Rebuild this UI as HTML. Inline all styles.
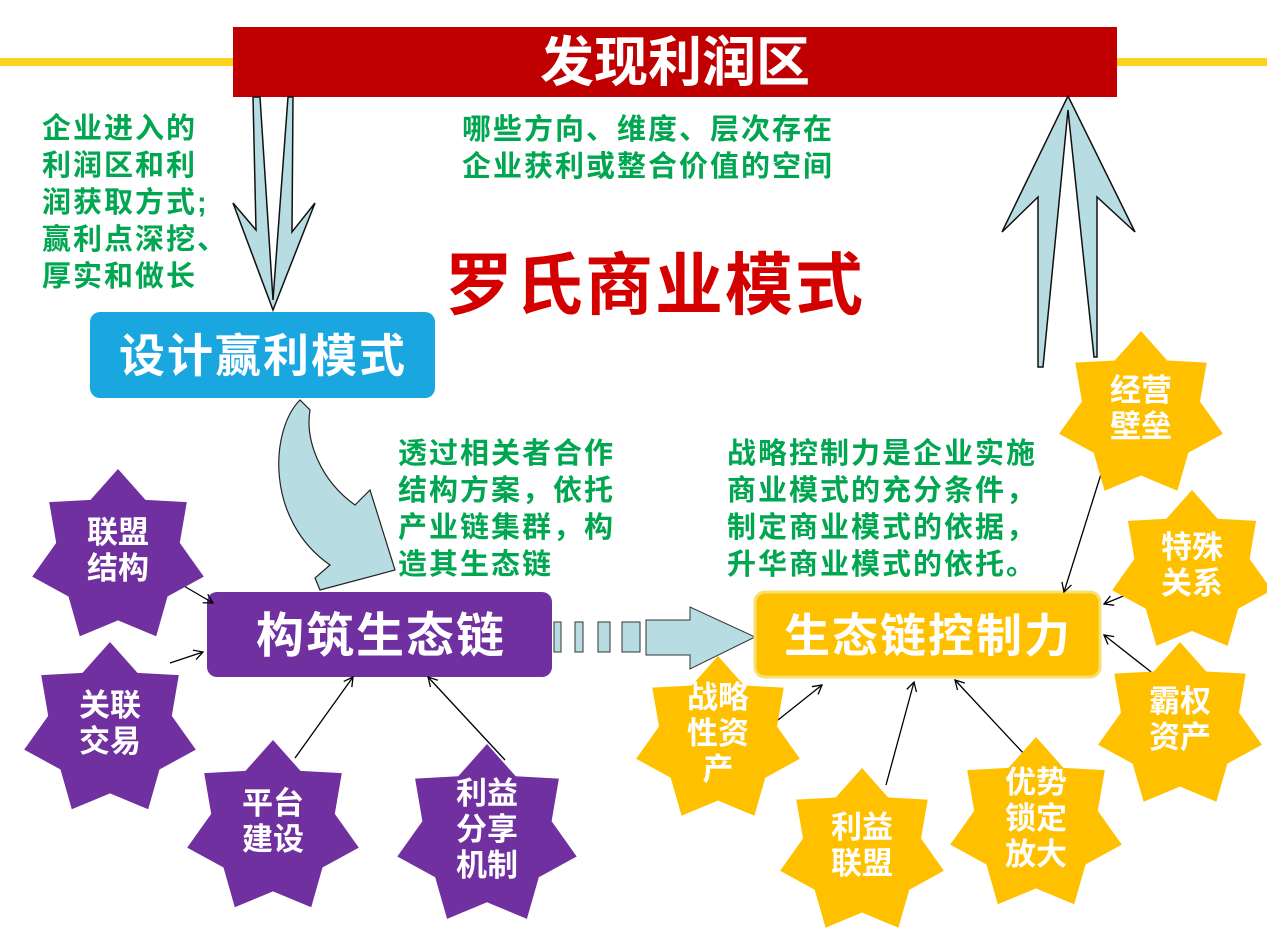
<!DOCTYPE html>
<html><head><meta charset="utf-8"><style>
html,body{margin:0;padding:0;background:#fff;width:1267px;height:950px;overflow:hidden}
svg{display:block}
text{font-family:"Liberation Sans","Noto Sans CJK SC",sans-serif;font-weight:bold}
.g{fill:#00a650;font-size:29px;letter-spacing:2px}
.w{fill:#fff}
</style></head><body>
<svg id="s" width="1267" height="950" viewBox="0 0 1267 950" xmlns="http://www.w3.org/2000/svg">
<defs><marker id="ah" markerWidth="12" markerHeight="12" refX="10" refY="6" orient="auto" markerUnits="userSpaceOnUse"><path d="M1,1 L10,6 L1,11" fill="none" stroke="#000" stroke-width="1.3"/></marker></defs>
<rect x="0" y="58" width="236" height="8" fill="#ffd21f"/>
<rect x="1115" y="58" width="152" height="8" fill="#ffd21f"/>
<rect x="233" y="27" width="884" height="70" fill="#c00000"/>
<text x="675" y="81" text-anchor="middle" class="w" font-size="54">发现利润区</text>
<polygon points="253,97 256,230 233,203 273,310 315,203 292,232 293,97 288,97 273,300 260,97" fill="#b7dde3" stroke="#111" stroke-width="1.5"/>
<polygon points="1068,96 1002,232 1038,197 1038,367 1043,367 1068,110 1094,357 1097,357 1097,197 1135,232" fill="#b7dde3" stroke="#111" stroke-width="1.5"/>
<g class="g">
<text x="42" y="138">企业进入的</text><text x="42" y="175">利润区和利</text><text x="42" y="212">润获取方式;</text><text x="42" y="249">赢利点深挖、</text><text x="42" y="286">厚实和做长</text>
<text x="462" y="139">哪些方向、维度、层次存在</text><text x="462" y="176">企业获利或整合价值的空间</text>
<text x="398" y="463">透过相关者合作</text><text x="398" y="500">结构方案，依托</text><text x="398" y="537">产业链集群，构</text><text x="398" y="574">造其生态链</text>
<text x="727" y="463">战略控制力是企业实施</text><text x="727" y="500">商业模式的充分条件，</text><text x="727" y="537">制定商业模式的依据，</text><text x="727" y="574">升华商业模式的依托。</text>
</g>
<text x="445" y="309" fill="#d40000" font-size="68" letter-spacing="2">罗氏商业模式</text>
<rect x="90" y="312" width="345" height="86" rx="10" fill="#1aa7e0"/>
<text x="263" y="372" text-anchor="middle" class="w" font-size="46" letter-spacing="2">设计赢利模式</text>
<path d="M300,400 C270,430 265,520 330,565 L315,578 L320,590 L395,570 L370,490 L355,505 C320,480 305,440 310,410 Z" fill="#b7dde3" stroke="#222" stroke-width="1.2"/>
<rect x="207" y="592" width="345" height="85" rx="10" fill="#7030a0"/>
<text x="381" y="652" text-anchor="middle" class="w" font-size="48" letter-spacing="2">构筑生态链</text>
<g fill="#b7dde3" stroke="#333" stroke-width="1">
<rect x="554" y="622" width="7" height="30"/><rect x="575" y="622" width="8" height="30"/><rect x="598" y="622" width="12" height="30"/><rect x="622" y="622" width="18" height="30"/>
<polygon points="646,620 690,620 690,607 755,637 690,669 690,655 646,655"/>
</g>
<rect x="755" y="592" width="345" height="85" rx="10" fill="#ffc000" stroke="#f5e070" stroke-width="3"/>
<text x="928" y="652" text-anchor="middle" class="w" font-size="46" letter-spacing="2">生态链控制力</text>
<g stroke="#000" stroke-width="1.3" marker-end="url(#ah)">
<line x1="165" y1="575" x2="213" y2="603"/>
<line x1="170" y1="663" x2="203" y2="652"/>
<line x1="295" y1="758" x2="353" y2="677"/>
<line x1="505" y1="760" x2="428" y2="677"/>
<line x1="1107" y1="455" x2="1064" y2="592"/>
<line x1="1150" y1="585" x2="1104" y2="604"/>
<line x1="1155" y1="675" x2="1104" y2="635"/>
<line x1="778" y1="720" x2="822" y2="685"/>
<line x1="886" y1="785" x2="914" y2="682"/>
<line x1="1025" y1="755" x2="955" y2="680"/>
</g>
<g id="stars"></g>
</svg>
<script>
var S=[[118,557,88,"#7030a0",["联盟","结构"]],[110,730,88,"#7030a0",["关联","交易"]],[273,828,88,"#7030a0",["平台","建设"]],[487,836,92,"#7030a0",["利益","分享","机制"]],
[1141,415,84,"#ffc000",["经营","壁垒"]],[1192,572,82,"#ffc000",["特殊","关系"]],[1180,726,84,"#ffc000",["霸权","资产"]],[718,740,84,"#ffc000",["战略","性资","产"]],[862,852,84,"#ffc000",["利益","联盟"]],[1036,825,88,"#ffc000",["优势","锁定","放大"]]];
var g=document.getElementById("stars"),h="";
S.forEach(function(s){var p=[];for(var i=0;i<14;i++){var r=i%2?s[2]*0.72:s[2],a=-Math.PI/2+i*Math.PI/7;p.push((s[0]+r*Math.cos(a)).toFixed(1)+","+(s[1]+r*Math.sin(a)).toFixed(1));}
h+='<polygon points="'+p.join(" ")+'" fill="'+s[3]+'"/>';var n=s[4].length,lh=36,y0=s[1]-(n-1)*lh/2+4;
s[4].forEach(function(t,k){h+='<text x="'+s[0]+'" y="'+(y0+k*lh)+'" text-anchor="middle" fill="#fff" font-size="31">'+t+'</text>';});});
g.innerHTML=h;
</script>
</body></html>
